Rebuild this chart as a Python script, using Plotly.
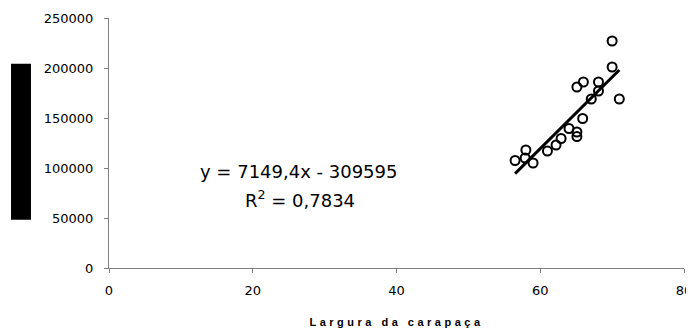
import plotly.graph_objects as go

# Data
largura = [70.0, 70.0, 71.0, 66.0, 65.1, 68.1, 68.1, 67.1, 65.9, 64.0,
           65.1, 65.1, 62.9, 62.2, 61.0, 58.0, 56.5, 57.9, 59.0]
peso = [227000, 201000, 169000, 186000, 181000, 186000, 177000, 169000, 149500, 139500,
        136000, 131500, 129500, 123000, 117000, 118000, 107500, 110000, 105000]
slope = 7149.4
intercept = -309595
r2_text = "0,7834"
x_ticks = [0, 20, 40, 60, 80]
y_ticks = [0, 50000, 100000, 150000, 200000, 250000]

fit_x = [min(largura), max(largura)]
fit_y = [slope * v + intercept for v in fit_x]

fig = go.Figure()
fig.add_trace(go.Scatter(
    x=largura, y=peso, mode="markers",
    marker=dict(symbol="circle-open", size=9, color="black", line=dict(width=2, color="black")),
    hoverinfo="skip", showlegend=False,
))
fig.add_trace(go.Scatter(
    x=fit_x, y=fit_y, mode="lines",
    line=dict(color="black", width=3),
    hoverinfo="skip", showlegend=False,
))

tickfont = dict(family="DejaVu Sans", size=13, color="black")
fig.update_layout(
    width=686, height=323,
    margin=dict(l=101, r=10, t=10, b=63, autoexpand=False),
    paper_bgcolor="white", plot_bgcolor="white",
    xaxis=dict(
        range=[0, 80], tickvals=x_ticks, showline=True, linecolor="#808080", linewidth=1,
        ticks="outside", ticklen=4, tickcolor="#808080", showgrid=False, zeroline=False,
        tickfont=tickfont, ticklabelstandoff=6,
        title=dict(text='<span style="letter-spacing:3.5px">Largura da carapaça</span>',
                   font=dict(family="Liberation Sans", size=11, color="black", weight="bold"),
                   standoff=21),
    ),
    yaxis=dict(
        range=[0, 250000], tickvals=y_ticks, tickformat="d", showline=True, linecolor="#808080",
        linewidth=1, ticks="outside", ticklen=4, tickcolor="#808080", showgrid=False,
        zeroline=False, tickfont=tickfont, ticklabelstandoff=8,
    ),
    shapes=[dict(type="rect", xref="paper", yref="paper", x0=-0.1704, x1=-0.1357,
                 y0=0.193, y1=0.817, fillcolor="black", line=dict(width=0))],
    annotations=[
        dict(x=26.3, y=96500, xref="x", yref="y", showarrow=False, xanchor="center", yanchor="middle",
             text="y = 7149,4x - 309595", font=dict(family="DejaVu Sans", size=18, color="black")),
        dict(x=26.6, y=69500, xref="x", yref="y", showarrow=False, xanchor="center", yanchor="middle",
             text="R<sup>2</sup> = " + r2_text, font=dict(family="DejaVu Sans", size=18, color="black")),
    ],
)

fig.write_html("out.html")
